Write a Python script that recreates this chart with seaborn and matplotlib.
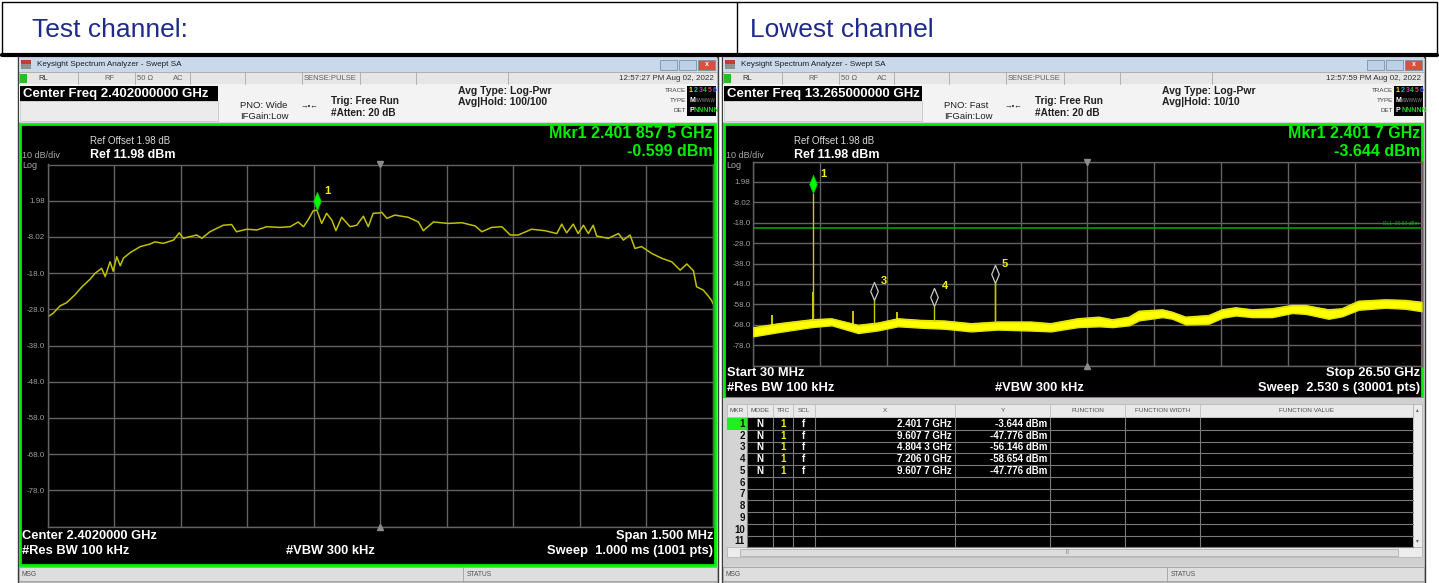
import numpy as np
import pandas as pd
import matplotlib
matplotlib.use("Agg")
import matplotlib.pyplot as plt
from matplotlib.patches import Rectangle
from matplotlib.path import Path
import seaborn as sns

W, H = 1439, 583

# ---- left screen: test channel, 1.5 MHz span around 2402 MHz ----
freq_left = [2401.250, 2401.252, 2401.263, 2401.278, 2401.293, 2401.312, 2401.327, 2401.346,
             2401.357, 2401.372, 2401.380, 2401.391, 2401.398, 2401.406, 2401.414, 2401.421,
             2401.436, 2401.459, 2401.481, 2401.492, 2401.511, 2401.534, 2401.547, 2401.556,
             2401.586, 2401.598, 2401.616, 2401.646, 2401.665, 2401.676, 2401.699, 2401.722,
             2401.744, 2401.774, 2401.797, 2401.815, 2401.827, 2401.838, 2401.849, 2401.857,
             2401.868, 2401.879, 2401.891, 2401.900, 2401.913, 2401.932, 2401.947, 2401.962,
             2401.973, 2401.984, 2401.999, 2402.003, 2402.015, 2402.033, 2402.063, 2402.086,
             2402.097, 2402.120, 2402.153, 2402.184, 2402.214, 2402.229, 2402.251, 2402.274,
             2402.293, 2402.311, 2402.341, 2402.371, 2402.398, 2402.409, 2402.420, 2402.435,
             2402.446, 2402.458, 2402.469, 2402.480, 2402.488, 2402.514, 2402.537, 2402.548,
             2402.563, 2402.574, 2402.589, 2402.612, 2402.634, 2402.657, 2402.676, 2402.691,
             2402.706, 2402.713, 2402.728, 2402.739, 2402.747, 2402.750]
level_left = [-30.5, -30.0, -29.1, -27.1, -26.2, -24.0, -21.9, -19.7,
              -18.1, -16.7, -19.0, -14.9, -17.5, -13.5, -16.0, -13.9,
              -12.4, -10.7, -10.0, -9.4, -9.8, -8.9, -6.9, -8.4,
              -7.5, -8.4, -6.6, -4.8, -4.6, -6.6, -5.9, -6.1,
              -5.2, -5.4, -5.2, -3.9, -5.2, -3.2, -0.8, -0.6,
              -4.3, -1.5, -3.4, -6.3, -2.6, -5.2, -4.8, -2.3,
              -5.2, -1.5, -1.4, -1.2, -2.9, -2.0, -2.6, -3.9,
              -6.3, -3.9, -4.3, -4.1, -5.0, -6.6, -5.4, -5.2,
              -7.5, -7.5, -5.9, -6.3, -7.1, -4.5, -6.9, -4.5,
              -7.1, -4.8, -7.1, -4.8, -7.8, -8.4, -7.1, -8.9,
              -7.5, -11.2, -10.7, -12.6, -13.9, -14.9, -17.2, -15.5,
              -17.4, -21.8, -22.7, -24.3, -25.6, -26.5]
mkr_left_freq = 2401.8575
mkr_left_level = -0.599

# ---- right screen: lowest channel, 30 MHz .. 26.5 GHz ----
freq_right = [0.03, 1.05, 2.34, 3.13, 4.18, 4.97, 5.76, 6.69, 7.61, 8.66, 9.71, 11.03,
              11.82, 12.88, 13.73, 14.26, 14.92, 15.31, 16.24, 16.63, 17.16, 18.08, 18.61,
              19.14, 19.79, 20.58, 21.37, 21.90, 22.82, 23.35, 24.01, 25.07, 25.86, 26.50]
noise_top = [-69.5, -67.5, -65.6, -65.1, -68.3, -67.2, -65.1, -65.9, -66.2, -67.5, -66.7, -66.7,
             -67.5, -65.1, -64.3, -65.6, -64.3, -61.4, -60.7, -61.9, -64.3, -63.5, -60.7,
             -59.7, -60.7, -60.2, -58.6, -58.6, -60.7, -60.2, -56.5, -55.8, -56.1, -57.0]
noise_bottom = [-73.7, -71.6, -69.2, -68.3, -72.1, -70.8, -68.8, -69.5, -70.0, -71.3, -70.4, -70.9,
                -71.3, -69.2, -68.8, -69.2, -68.3, -65.9, -64.3, -65.1, -67.9, -67.5, -64.6,
                -63.5, -64.3, -64.3, -62.3, -62.7, -65.1, -63.9, -60.7, -59.7, -60.2, -61.4]
spur_freq = [0.76, 2.40, 3.99, 5.74]
spur_level = [-63.5, -52.0, -61.5, -62.0]

mkr_ids = ["1", "2", "3", "4", "5"]
mkr_freq = [2.4017, 9.6077, 4.8043, 7.2060, 9.6077]
mkr_level = [-3.644, -47.776, -56.146, -58.654, -47.776]
mkr_x_txt = ["2.401 7 GHz", "9.607 7 GHz", "4.804 3 GHz", "7.206 0 GHz", "9.607 7 GHz"]
mkr_y_txt = ["-3.644 dBm", "-47.776 dBm", "-56.146 dBm", "-58.654 dBm", "-47.776 dBm"]
dl1_level = -20.60

ref_level = 11.98
ytick_labels = ["", "1.98", "-8.02", "-18.0", "-28.0", "-38.0", "-48.0", "-58.0", "-68.0", "-78.0", ""]
table_cols = ["MKR", "MODE", "TRC", "SCL", "X", "Y", "FUNCTION", "FUNCTION WIDTH", "FUNCTION VALUE"]

sns.set_theme(style="dark")
plt.rcParams['font.family'] = ['Liberation Sans', 'DejaVu Sans']

GRID = '#626262'
GREEN = '#00f000'
YEL = '#f2f200'

fig = plt.figure(figsize=(W / 100, H / 100), dpi=100)
fig.patch.set_facecolor('white')
bg = fig.add_axes([0, 0, 1, 1])
bg.set_xlim(0, W)
bg.set_ylim(H, 0)
bg.axis('off')


def px_rect(x0, y0, x1, y1):
    return [x0 / W, 1 - y1 / H, (x1 - x0) / W, (y1 - y0) / H]


def box(x0, y0, x1, y1, fc, ec='none', lw=0.8, z=1):
    bg.add_patch(Rectangle((x0, y0), x1 - x0, y1 - y0, facecolor=fc,
                           edgecolor=ec, linewidth=lw, zorder=z))


def txt(x, y, s, size=6, color='black', weight='normal', ha='left', va='center', z=5):
    bg.text(x, y, s, fontsize=size, color=color, fontweight=weight, ha=ha, va=va, zorder=z)


# header row with the two captions
box(2, 2, 1437, 55, 'white', ec='black', lw=1)
bg.plot([737, 737], [2, 55], color='black', lw=1, zorder=2)
bg.plot([2, 1437], [55, 55], color='black', lw=3, zorder=2)
txt(32, 30, "Test channel:", size=19, color='#1f2a8a')
txt(750, 30, "Lowest channel", size=19, color='#1f2a8a')


def window(x0, x1, plot_bottom, center_txt, pno, avg_hold, clock):
    box(x0, 57, x1, 583, '#d6d6d6', ec='#3a3a3a', lw=1)
    # title bar
    box(x0 + 1, 57, x1 - 1, 72, '#c9d9eb')
    box(x0 + 3, 60, x0 + 13, 64, '#c8383a', z=2)
    box(x0 + 3, 64, x0 + 13, 69, '#909090', z=2)
    txt(x0 + 19, 64.5, "Keysight Spectrum Analyzer - Swept SA", size=5.9, color='#202020')
    for bx, c in [(x1 - 58, '#bcd0e6'), (x1 - 39, '#bcd0e6'), (x1 - 20, '#d8503e')]:
        box(bx, 60, bx + 17, 70, c, ec='#7d8fa5', lw=0.6, z=2)
    txt(x1 - 11.5, 65, "x", size=5, color='white', weight='bold', ha='center')
    # status row
    box(x0 + 1, 72, x1 - 1, 84, '#e6e6e6', ec='#a8a8a8', lw=0.6)
    for r in [60, 117, 172, 227, 284, 342, 398, 490]:
        bg.plot([x0 + r, x0 + r], [72, 84], color='#a8a8a8', lw=0.6, zorder=2)
    box(x0 + 2, 73.5, x0 + 9, 82.5, '#22c022', z=2)
    txt(x0 + 20, 78, "RL", size=5.5, color='#303030')
    txt(x0 + 86, 78, "RF", size=5.5, color='#606060')
    txt(x0 + 119, 78, "50 Ω", size=5.5, color='#606060')
    txt(x0 + 155, 78, "AC", size=5.5, color='#606060')
    txt(x0 + 286, 78, "SENSE:PULSE", size=5.5, color='#606060')
    txt(x1 - 4, 78, clock, size=5.8, color='#303030', ha='right')
    # settings area
    box(x0 + 1, 84, x1 - 1, 122, '#f3f3f3')
    box(x0 + 2, 86, x0 + 200, 101, 'black', z=2)
    txt(x0 + 5, 93.5, center_txt, size=9.5, color='white', weight='bold', z=6)
    box(x0 + 2, 101, x0 + 200, 121, '#ebebeb', ec='#c0c0c0', lw=0.5)
    txt(x0 + 222, 106, pno, size=6.8, color='#202020')
    txt(x0 + 222, 116.5, "IFGain:Low", size=6.8, color='#202020')
    txt(x0 + 282, 106, "→•←", size=5.5, color='#202020')
    txt(x0 + 313, 101.5, "Trig: Free Run", size=7.2, color='#202020', weight='bold')
    txt(x0 + 313, 113.5, "#Atten: 20 dB", size=7.2, color='#202020', weight='bold')
    txt(x0 + 440, 91, "Avg Type: Log-Pwr", size=7.5, color='#202020', weight='bold')
    txt(x0 + 440, 102, avg_hold, size=7.5, color='#202020', weight='bold')
    txt(x1 - 32, 90, "TRACE", size=4.5, color='#404040', ha='right')
    txt(x1 - 32, 100.5, "TYPE", size=4.5, color='#404040', ha='right')
    txt(x1 - 32, 111, "DET", size=4.5, color='#404040', ha='right')
    box(x1 - 31, 85.5, x1 - 2, 116, 'black', z=2)
    for i, c in enumerate(['#f0f000', '#00c0c0', '#c040c0', '#30c030', '#e04060', '#4060ff']):
        txt(x1 - 29 + i * 4.7, 90.5, str(i + 1), size=5, color=c, weight='bold')
    txt(x1 - 29, 100.5, "M", size=5, color='white', weight='bold')
    txt(x1 - 24, 100.5, "WWWWW", size=3.3, color='#909090')
    txt(x1 - 29, 111, "P", size=5, color='white', weight='bold')
    txt(x1 - 24, 111, "NNNNN", size=5, color='#20d020', weight='bold')
    # green framed plot area
    box(x0 + 2, 123.5, x1 - 3, plot_bottom, 'black', ec=GREEN, lw=2, z=1)
    # message bar
    box(x0 + 1, 567, x1 - 1, 581, '#dedede', ec='#a0a0a0', lw=0.6)
    bg.plot([x0 + 445, x0 + 445], [567, 581], color='#a0a0a0', lw=0.6, zorder=2)
    txt(x0 + 4, 574, "MSG", size=4.8, color='#505050')
    txt(x0 + 449, 574, "STATUS", size=4.8, color='#505050')


def plot_texts(x0, x1, mkr_f, mkr_l):
    txt(x0 + 72, 141.5, "Ref Offset 1.98 dB", size=7, color='#d8d8d8')
    txt(x0 + 72, 154.5, "Ref 11.98 dBm", size=9, color='white', weight='bold')
    txt(x0 + 4, 155.5, "10 dB/div", size=6.5, color='#a8a8a8')
    txt(x0 + 4, 165, "Log", size=6.5, color='#a8a8a8')
    txt(x1 - 5, 134, "Mkr1 " + mkr_f, size=11.5, color=GREEN, weight='bold', ha='right')
    txt(x1 - 5, 151, mkr_l, size=11.5, color=GREEN, weight='bold', ha='right')


diamond = Path([(0, 0), (-0.42, 1), (0, 2), (0.42, 1), (0, 0)], closed=True)


def style_axes(ax, x_lo, x_hi):
    ax.set_facecolor('none')
    ax.set_xlim(x_lo, x_hi)
    ax.set_ylim(ref_level - 100, ref_level)
    ax.set_xticks(np.linspace(x_lo, x_hi, 11))
    ax.set_yticks(ref_level - 10 * np.arange(11))
    ax.set_yticklabels(ytick_labels)
    ax.set_xticklabels([])
    ax.grid(True, color=GRID, lw=1)
    ax.tick_params(axis='both', length=0, pad=2, labelsize=5.8, labelcolor='#a0a0a0')
    for s in ax.spines.values():
        s.set_color(GRID)
        s.set_linewidth(1)
    ax.set_xlabel('')
    ax.set_ylabel('')
    mid = (x_lo + x_hi) / 2
    ax.plot([mid], [ref_level], marker='v', ms=5, color='#8c8c8c', clip_on=False, zorder=4)
    ax.plot([mid], [ref_level - 100], marker='^', ms=5, color='#8c8c8c', clip_on=False, zorder=4)


# ---------------- left window ----------------
window(18, 718, 565, "Center Freq 2.402000000 GHz", "PNO: Wide", "Avg|Hold: 100/100",
       "12:57:27 PM Aug 02, 2022")
plot_texts(18, 718, "2.401 857 5 GHz", "-0.599 dBm")
txt(22, 536, "Center 2.4020000 GHz", size=9.3, color='white', weight='bold')
txt(713, 536, "Span 1.500 MHz", size=9.3, color='white', weight='bold', ha='right')
txt(22, 551, "#Res BW 100 kHz", size=9.3, color='white', weight='bold')
txt(286, 551, "#VBW 300 kHz", size=9.3, color='white', weight='bold')
txt(713, 551, "Sweep  1.000 ms (1001 pts)", size=9.3, color='white', weight='bold', ha='right')

axL = fig.add_axes(px_rect(47.5, 164.5, 713, 526.5))
df_left = pd.DataFrame({"freq": freq_left, "level": level_left})
sns.lineplot(data=df_left, x="freq", y="level", ax=axL, color='#c0c000', linewidth=1.1)
style_axes(axL, 2401.25, 2402.75)
axL.plot([mkr_left_freq], [mkr_left_level], marker=diamond, ms=26, mfc='#00ff00',
         mec='#00c000', mew=0.6, ls='none', clip_on=False, zorder=5)
axL.annotate("1", (mkr_left_freq, mkr_left_level), xytext=(5, 14), textcoords='offset points',
             color=YEL, fontsize=8, fontweight='bold', ha='left', va='center')

# ---------------- right window ----------------
window(722, 1425, 398, "Center Freq 13.265000000 GHz", "PNO: Fast", "Avg|Hold: 10/10",
       "12:57:59 PM Aug 02, 2022")
plot_texts(722, 1425, "2.401 7 GHz", "-3.644 dBm")
txt(727, 373, "Start 30 MHz", size=9.3, color='white', weight='bold')
txt(1420, 373, "Stop 26.50 GHz", size=9.3, color='white', weight='bold', ha='right')
txt(727, 388, "#Res BW 100 kHz", size=9.3, color='white', weight='bold')
txt(995, 388, "#VBW 300 kHz", size=9.3, color='white', weight='bold')
txt(1420, 388, "Sweep  2.530 s (30001 pts)", size=9.3, color='white', weight='bold', ha='right')

axR = fig.add_axes(px_rect(753.3, 161.5, 1421.5, 365.5))
df_right = pd.DataFrame({"freq": freq_right, "top": noise_top, "bottom": noise_bottom})
axR.fill_between(df_right["freq"], df_right["bottom"], df_right["top"], color='#ffff00',
                 edgecolor='#e4e400', linewidth=1.0, zorder=3)
sns.lineplot(data=df_right, x="freq", y="top", ax=axR, color='#e8e800', linewidth=0.9, zorder=3)
style_axes(axR, 0.03, 26.50)
floor_top = np.interp(spur_freq + mkr_freq, freq_right, noise_top)
axR.vlines(spur_freq, floor_top[:len(spur_freq)], spur_level, color='#ffff00', lw=1.1, zorder=3)
axR.vlines(mkr_freq, floor_top[len(spur_freq):], mkr_level, color='#c8c800', lw=1.0, zorder=3)
axR.axhline(dl1_level, color='#00a000', lw=1.2, zorder=2)
axR.text(26.4, dl1_level + 1.2, "DL1 -20.60 dBm", color='#00b000', fontsize=3.5,
         ha='right', va='bottom')
for mid, f, lv in zip(mkr_ids, mkr_freq, mkr_level):
    if mid == "2":
        continue
    if mid == "1":
        axR.plot([f], [lv], marker=diamond, ms=26, mfc='#00ff00', mec='#00c000', mew=0.6,
                 ls='none', zorder=5)
    else:
        axR.plot([f], [lv], marker=diamond, ms=26, mfc='black', mec='#c8c8c8', mew=0.9,
                 ls='none', zorder=5)
    axR.annotate(mid, (f, lv), xytext=(5, 14), textcoords='offset points', color=YEL,
                 fontsize=8, fontweight='bold', ha='left', va='center')

# marker table
box(723, 398, 1424, 566, '#d0d0d0', z=1)
col_edges = [727, 747, 773, 793, 815, 955, 1050, 1125, 1200, 1413]
box(727, 404, 1413, 417, '#e9e9e9', ec='#b4b4b4', lw=0.5, z=2)
for i, name in enumerate(table_cols):
    cx = (col_edges[i] + col_edges[i + 1]) / 2
    txt(cx, 410.5, name, size=4.6, color='#505050', ha='center')
    bg.plot([col_edges[i + 1]] * 2, [404, 417], color='#b4b4b4', lw=0.5, zorder=3)
row_h = 11.75
row_top = 418
box(747, row_top, 1413, row_top + 11 * row_h, 'black', z=2)
box(727, row_top, 747, row_top + 11 * row_h, '#d4d4d4', z=2)
for r in range(11):
    yc = row_top + (r + 0.5) * row_h
    if r == 0:
        box(727, row_top, 747, row_top + row_h, '#20f020', z=3)
    txt(745, yc, str(r + 1), size=7, color='#101010', weight='bold', ha='right', z=6)
    bg.plot([747, 1413], [row_top + (r + 1) * row_h] * 2, color='#7a7a7a', lw=0.8, zorder=4)
for x in col_edges[1:-1]:
    bg.plot([x, x], [row_top, row_top + 11 * row_h], color='#7a7a7a', lw=0.8, zorder=4)
for r in range(len(mkr_x_txt)):
    yc = row_top + (r + 0.5) * row_h
    txt(760, yc, "N", size=7, color='white', weight='bold', ha='center', z=6)
    txt(783, yc, "1", size=7, color=YEL, weight='bold', ha='center', z=6)
    txt(804, yc, "f", size=7, color='white', weight='bold', ha='center', z=6)
    txt(952, yc, mkr_x_txt[r], size=7, color='white', weight='bold', ha='right', z=6)
    txt(1047, yc, mkr_y_txt[r], size=7, color='white', weight='bold', ha='right', z=6)
box(1413, 404, 1422, 547, '#ececec', ec='#b0b0b0', lw=0.5, z=2)
txt(1417.5, 410, "▴", size=4, color='#606060', ha='center')
txt(1417.5, 541, "▾", size=4, color='#606060', ha='center')
box(727, 547, 1422, 557, '#ececec', ec='#b0b0b0', lw=0.5, z=2)
box(740, 548.5, 1398, 555.5, '#dcdcdc', ec='#a8a8a8', lw=0.5, z=3)
txt(1068, 552, "|||", size=3.5, color='#707070', ha='center')

fig.savefig("out.png", dpi=100, facecolor='white')
